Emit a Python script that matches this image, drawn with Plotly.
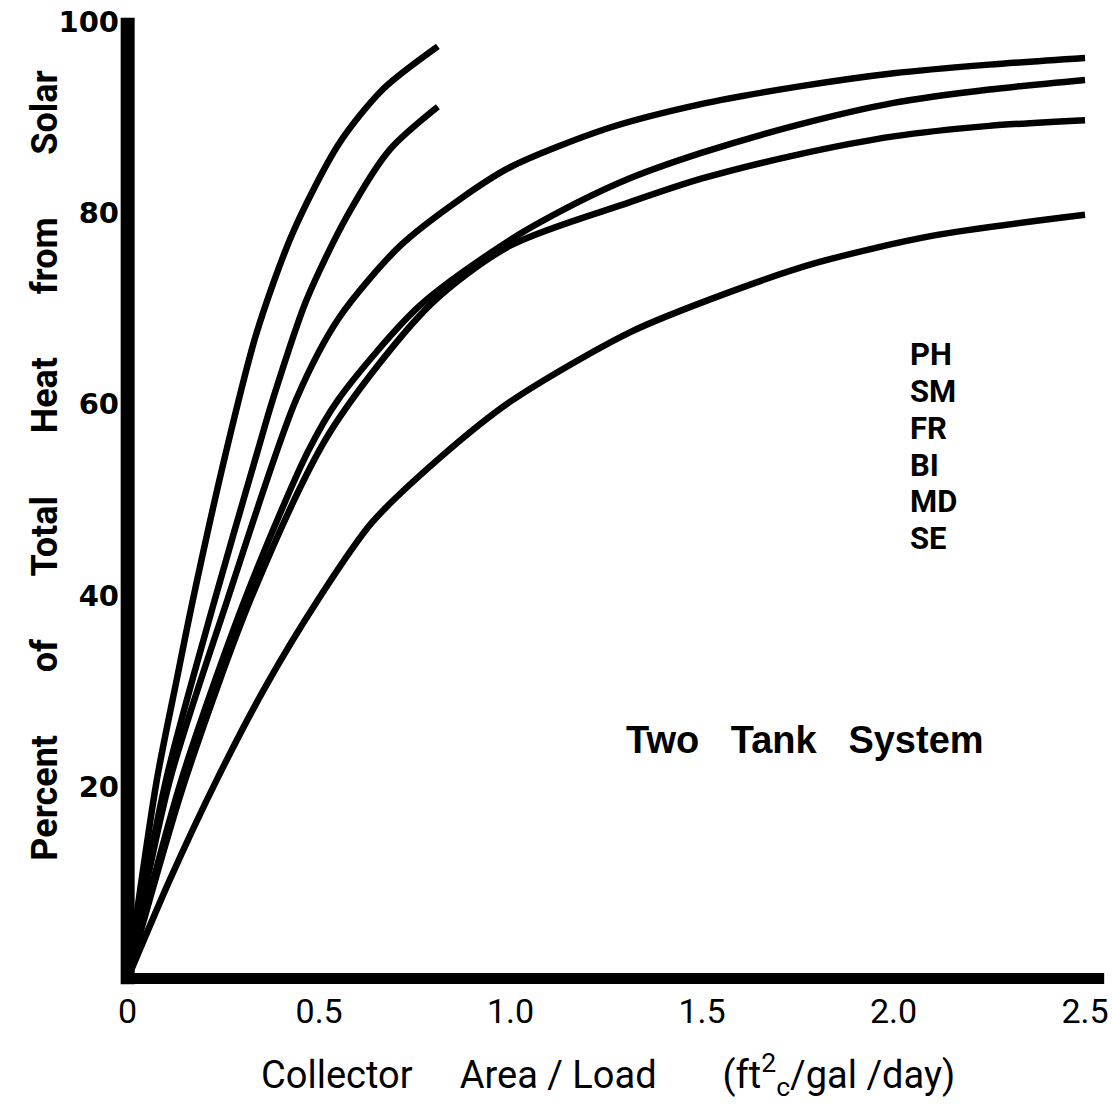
import plotly.graph_objects as go

# curve data (x = collector area / load, y = percent solar)
ph_x = [0, 0.076, 0.128, 0.17, 0.258, 0.337, 0.431, 0.553, 0.666, 0.81]
ph_y = [0, 20.7, 31.2, 39.5, 55.2, 67.5, 77.9, 87.3, 92.9, 97.4]

sm_x = [0, 0.1, 0.227, 0.34, 0.379, 0.467, 0.572, 0.684, 0.81]
sm_y = [0, 20.7, 39.5, 55.2, 60.5, 70.9, 79.6, 86.6, 91.1]

fr_x = [0, 0.11, 0.26, 0.44, 0.553, 0.71, 0.87, 1.0, 1.25, 1.5, 1.75, 2.0, 2.25, 2.5]
fr_y = [0, 20.7, 39.5, 60.5, 69.1, 76.5, 81.5, 84.8, 88.8, 91.4, 93.2, 94.6, 95.5, 96.2]

bi_x = [0, 0.14, 0.31, 0.47, 0.55, 0.76, 1.0, 1.18, 1.31, 1.5, 1.75, 2.0, 2.25, 2.5]
bi_y = [0, 20.7, 40, 55, 60.5, 70.2, 77.2, 81.2, 83.6, 86.3, 89.2, 91.5, 92.9, 93.9]

md_x = [0, 0.15, 0.33, 0.527, 0.79, 1.0, 1.31, 1.5, 1.75, 2.0, 2.25, 2.5]
md_y = [0, 20.7, 40.5, 57, 70.4, 76.6, 81.1, 83.6, 86.1, 88.0, 89.1, 89.7]

se_x = [0, 0.11, 0.232, 0.36, 0.496, 0.637, 0.815, 1.0, 1.31, 1.57, 1.8, 2.1, 2.5]
se_y = [0, 10.3, 20.7, 30.5, 39.5, 47.6, 54.4, 60.3, 67.5, 71.7, 74.8, 77.6, 79.8]

site_labels = ["PH", "SM", "FR", "BI", "MD", "SE"]

x_ticks = [0, 0.5, 1.0, 1.5, 2.0, 2.5]
x_tick_text = ["0", "0.5", "1.0", "1.5", "2.0", "2.5"]
y_ticks = [20, 40, 60, 80, 100]
y_tick_text = ["20", "40", "60", "80", "100"]

fig = go.Figure()
for xs, ys, name in zip([ph_x, sm_x, fr_x, bi_x, md_x, se_x],
                        [ph_y, sm_y, fr_y, bi_y, md_y, se_y], site_labels):
    fig.add_trace(go.Scatter(x=xs, y=ys, name=name, mode="lines",
                             line=dict(color="black", width=6.5, shape="spline", smoothing=0.8),
                             showlegend=False))

# heavy hand-drawn axes
fig.add_shape(type="line", x0=0, y0=-0.6, x1=0, y1=100.4, xref="x", yref="y",
              line=dict(color="black", width=14))
fig.add_shape(type="line", x0=0, y0=0, x1=2.55, y1=0, xref="x", yref="y",
              line=dict(color="black", width=11))

sp = "\u00a0" * 7
fig.add_annotation(text=sp.join(["Percent", "of", "Total", "Heat", "from", "Solar"]),
                   xref="paper", yref="paper", x=-0.076, y=0.536, textangle=-90,
                   xanchor="center", yanchor="middle",
                   showarrow=False, font=dict(family="Roboto", size=36, color="black", weight="bold"))
fig.add_annotation(text="Collector" + "\u00a0" * 5 + "Area\u00a0/\u00a0Load" + "\u00a0" * 7
                   + "(ft<sup>2</sup><sub>c</sub>/gal\u00a0/day)",
                   xref="paper", yref="paper", x=0.494, y=-0.089,
                   xanchor="center", yanchor="middle",
                   showarrow=False, font=dict(family="Roboto", size=38, color="black"))
fig.add_annotation(text="Two\u00a0\u00a0\u00a0Tank\u00a0\u00a0\u00a0System", x=1.77, y=24.9,
                   showarrow=False, font=dict(family="Liberation Sans", size=38, color="black", weight="bold"))
for i, lab in enumerate(site_labels):
    fig.add_annotation(text=lab, x=2.037, y=65.2 - 3.85 * i, xanchor="left",
                       showarrow=False, font=dict(family="Roboto", size=31, color="black", weight="bold"))

fig.update_layout(
    width=1112, height=1107,
    margin=dict(l=120, r=4, t=12, b=119),
    paper_bgcolor="white", plot_bgcolor="white",
    xaxis=dict(range=[-0.02, 2.56], showgrid=False, zeroline=False, showline=False,
               tickvals=x_ticks, ticktext=x_tick_text, ticks="",
               tickfont=dict(family="Roboto", size=34, color="black")),
    yaxis=dict(range=[-1, 101], showgrid=False, zeroline=False, showline=False,
               tickvals=y_ticks, ticktext=y_tick_text, ticks="",
               tickfont=dict(family="DejaVu Sans", size=29, color="black", weight="bold")),
)

fig.write_html("out.html", config={"displayModeBar": False},
               post_script="document.body.style.margin='0';")
